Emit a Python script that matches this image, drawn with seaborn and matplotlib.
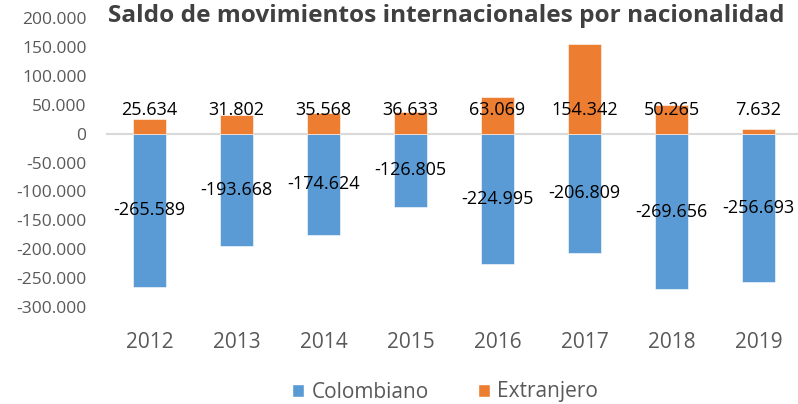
import matplotlib
matplotlib.use("Agg")
import matplotlib.pyplot as plt
import seaborn as sns
import pandas as pd
from matplotlib.patches import Patch

# datos
years = ["2012", "2013", "2014", "2015", "2016", "2017", "2018", "2019"]
colombiano = [-265589, -193668, -174624, -126805, -224995, -206809, -269656, -256693]
extranjero = [25634, 31802, 35568, 36633, 63069, 154342, 50265, 7632]
series = ["Colombiano", "Extranjero"]
colors = ["#5B9BD5", "#ED7D31"]
title = "Saldo de movimientos internacionales por nacionalidad"


def fmt(v):
    return f"{v:,}".replace(",", ".")


sns.set_style("white")
plt.rcParams["font.family"] = ["Open Sans", "DejaVu Sans"]

df = pd.DataFrame({
    "year": years * 2,
    "value": colombiano + extranjero,
    "serie": [series[0]] * len(years) + [series[1]] * len(years),
})

fig = plt.figure(figsize=(7.98, 4.04), dpi=100)
ax = fig.add_axes([106 / 798, 1 - 307 / 404, 696 / 798, 289 / 404])

sns.barplot(data=df, x="year", y="value", hue="serie", dodge=False,
            palette=colors, saturation=1, width=0.39, ax=ax, legend=False,
            edgecolor="white", linewidth=0.4)

ax.set_ylim(-300000, 200000)
ax.set_yticks(range(-300000, 200001, 50000))
ax.set_yticklabels([fmt(v) for v in range(-300000, 200001, 50000)])
ax.axhline(0, color="#D9D9D9", lw=1.5, zorder=0)
sns.despine(ax=ax, left=True, bottom=True)
ax.set_xlabel("")
ax.set_ylabel("")
ax.tick_params(axis="y", length=0, pad=14, labelsize=12.5, labelcolor="#595959")
ax.tick_params(axis="x", length=0, pad=18, labelsize=15, labelcolor="#595959")

# etiquetas
for i, v in enumerate(colombiano):
    ax.text(i, v / 2, fmt(v), ha="center", va="center", fontsize=13, color="black")
for i, v in enumerate(extranjero):
    ax.text(i, 40000, fmt(v), ha="center", va="center", fontsize=13, color="black")

fig.text(108 / 798, 1 - 16 / 404, title, fontsize=17.6, fontweight="bold",
         color="#404040", va="center", ha="left")

handles = [Patch(facecolor=c, label=s) for c, s in zip(colors, series)]
fig.legend(handles=handles, loc="center", bbox_to_anchor=(445 / 798, 1 - 392 / 404),
           ncol=2, frameon=False, fontsize=15, labelcolor="#595959",
           handlelength=0.6, handleheight=0.6, handletextpad=0.35, columnspacing=2.35)

fig.savefig("out.png", dpi=100)
